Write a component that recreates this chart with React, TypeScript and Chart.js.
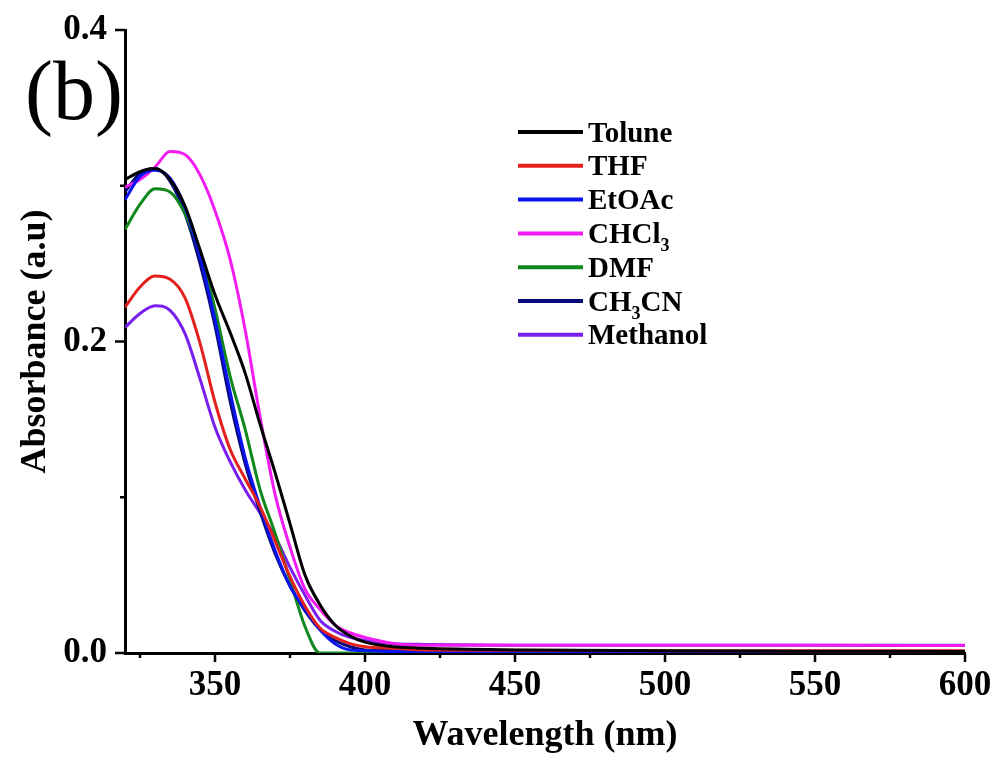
import React, { useEffect, useRef } from 'react';
import { Chart, registerables } from 'chart.js';

Chart.register(...registerables);

// ---- data ----
const wavelengths = [320, 325, 330, 335, 340, 345, 350, 355, 360, 365, 370, 375, 380, 385, 390, 395, 400, 410, 420, 450, 500, 550, 600];

const seriesLabels = ['Tolune', 'THF', 'EtOAc', 'CHCl₃', 'DMF', 'CH₃CN', 'Methanol'];
const seriesColors = ['#000000', '#e3201c', '#0a14f0', '#f21cf2', '#10881c', '#0a0a7a', '#7a1ef0'];

const toluene = [0.304, 0.309, 0.311, 0.304, 0.287, 0.259, 0.230, 0.206, 0.180, 0.147, 0.116, 0.083, 0.050, 0.031, 0.018, 0.011, 0.007, 0.004, 0.003, 0.002, 0.0015, 0.0012, 0.001];
const thf = [0.222, 0.235, 0.242, 0.240, 0.228, 0.199, 0.161, 0.131, 0.112, 0.094, 0.072, 0.049, 0.030, 0.016, 0.010, 0.006, 0.004, 0.003, 0.002, 0.0018, 0.0015, 0.0015, 0.0015];
const etoac = [0.291, 0.306, 0.310, 0.305, 0.286, 0.255, 0.214, 0.168, 0.126, 0.094, 0.066, 0.043, 0.028, 0.015, 0.006, 0.002, 0.0015, 0.001, 0.001, 0.0008, 0.0008, 0.0008, 0.0008];
const chcl3 = [0.299, 0.304, 0.312, 0.322, 0.320, 0.307, 0.284, 0.253, 0.208, 0.152, 0.102, 0.068, 0.041, 0.028, 0.018, 0.013, 0.010, 0.006, 0.005, 0.005, 0.005, 0.005, 0.0048];
const dmf = [0.272, 0.288, 0.298, 0.296, 0.282, 0.257, 0.221, 0.178, 0.144, 0.105, 0.077, 0.047, 0.017, 0.0, 0.0, 0.0, 0.0, 0.0, 0.0, 0.0, 0.0, 0.0, 0.0];
const ch3cn = [0.296, 0.308, 0.311, 0.303, 0.282, 0.250, 0.210, 0.162, 0.122, 0.091, 0.064, 0.043, 0.027, 0.015, 0.008, 0.004, 0.002, 0.0015, 0.001, 0.001, 0.001, 0.001, 0.001];
const methanol = [0.209, 0.218, 0.223, 0.220, 0.205, 0.176, 0.145, 0.123, 0.105, 0.090, 0.075, 0.055, 0.037, 0.021, 0.014, 0.010, 0.008, 0.006, 0.0055, 0.005, 0.005, 0.005, 0.005];

const seriesValues = [toluene, thf, etoac, chcl3, dmf, ch3cn, methanol];

const xMajorTicks = [350, 400, 450, 500, 550, 600];
const xMinorTicks = [325, 375, 425, 475, 525, 575];
const yMajorTicks = [0.0, 0.2, 0.4];
const yMinorTicks = [0.1, 0.3];

const xTitle = 'Wavelength (nm)';
const yTitle = 'Absorbance (a.u)';
const panelLabel = '(b)';

const SERIF = "'Liberation Serif', 'Times New Roman', serif";

function drawRichLabel(ctx: CanvasRenderingContext2D, text: string, x: number, baseline: number) {
  let cx = x;
  const parts = text.split('₃');
  parts.forEach((p, i) => {
    ctx.font = `bold 29px ${SERIF}`;
    ctx.fillText(p, cx, baseline);
    cx += ctx.measureText(p).width;
    if (i < parts.length - 1) {
      ctx.font = `bold 18px ${SERIF}`;
      ctx.fillText('3', cx, baseline + 8);
      cx += ctx.measureText('3').width;
    }
  });
}

const decorPlugin = {
  id: 'decor',
  afterDraw(chart: any) {
    const { ctx, chartArea, scales } = chart;
    const xs = scales.x;
    const ys = scales.y;
    ctx.save();
    ctx.strokeStyle = '#000';
    ctx.lineWidth = 2.5;
    ctx.lineCap = 'butt';
    const seg = (x1: number, y1: number, x2: number, y2: number) => {
      ctx.beginPath();
      ctx.moveTo(x1, y1);
      ctx.lineTo(x2, y2);
      ctx.stroke();
    };
    xMajorTicks.forEach((v) => {
      const px = xs.getPixelForValue(v);
      seg(px, chartArea.bottom, px, chartArea.bottom + 9);
    });
    xMinorTicks.forEach((v) => {
      const px = xs.getPixelForValue(v);
      seg(px, chartArea.bottom, px, chartArea.bottom + 5);
    });
    yMajorTicks.forEach((v) => {
      const py = ys.getPixelForValue(v);
      seg(chartArea.left, py, chartArea.left - 10, py);
    });
    yMinorTicks.forEach((v) => {
      const py = ys.getPixelForValue(v);
      seg(chartArea.left, py, chartArea.left - 5, py);
    });

    // legend
    const lx = chartArea.left + 393;
    const ly0 = chartArea.top + 102;
    const dy = 33.8;
    chart.data.datasets.forEach((ds: any, i: number) => {
      const yy = ly0 + i * dy;
      ctx.strokeStyle = ds.borderColor;
      ctx.lineWidth = 4;
      seg(lx, yy, lx + 65, yy);
      ctx.fillStyle = '#000';
      ctx.textAlign = 'left';
      ctx.textBaseline = 'alphabetic';
      drawRichLabel(ctx, ds.label, lx + 70, yy + 9.5);
    });

    // panel label
    ctx.fillStyle = '#000';
    ctx.font = `84px ${SERIF}`;
    ctx.textAlign = 'left';
    ctx.textBaseline = 'alphabetic';
    ctx.fillText(panelLabel, 25, 119);
    ctx.restore();
  },
};

export default function App() {
  const canvasRef = useRef<HTMLCanvasElement | null>(null);

  useEffect(() => {
    if (!canvasRef.current) return;
    const chart = new Chart(canvasRef.current, {
      type: 'line',
      data: {
        datasets: seriesLabels.map((label, i) => ({
          label,
          data: wavelengths.map((w, j) => ({ x: w, y: seriesValues[i][j] })),
          borderColor: seriesColors[i],
          backgroundColor: seriesColors[i],
          borderWidth: 3,
          pointRadius: 0,
          cubicInterpolationMode: 'monotone' as const,
          fill: false,
        })),
      },
      options: {
        animation: false,
        responsive: false,
        events: [],
        layout: { padding: { top: 30, right: 30, left: 0, bottom: 0 } },
        plugins: { legend: { display: false }, tooltip: { enabled: false }, title: { display: false } },
        scales: {
          x: {
            type: 'linear',
            min: 320,
            max: 600,
            afterFit: (s: any) => { s.height = 114; s.paddingLeft = 0; s.paddingRight = 0; },
            afterBuildTicks: (s: any) => { s.ticks = xMajorTicks.map((v) => ({ value: v })); },
            grid: { display: false, drawTicks: false, tickLength: 0 },
            border: { display: true, color: '#000', width: 3 },
            ticks: {
              autoSkip: false,
              maxRotation: 0,
              padding: 12,
              color: '#000',
              font: { family: SERIF, size: 35, weight: 'bold' },
              callback: (v: any) => String(v),
            },
            title: {
              display: true,
              text: xTitle,
              color: '#000',
              font: { family: SERIF, size: 36, weight: 'bold' },
              padding: { top: 0, bottom: 10 },
            },
          },
          y: {
            type: 'linear',
            min: 0,
            max: 0.4,
            afterFit: (s: any) => { s.width = 125; s.paddingTop = 0; s.paddingBottom = 0; },
            afterBuildTicks: (s: any) => { s.ticks = yMajorTicks.map((v) => ({ value: v })); },
            grid: { display: false, drawTicks: false, tickLength: 0 },
            border: { display: true, color: '#000', width: 3 },
            ticks: {
              autoSkip: false,
              padding: 18,
              color: '#000',
              font: { family: SERIF, size: 35, weight: 'bold' },
              callback: (v: any) => Number(v).toFixed(1),
            },
            title: {
              display: true,
              text: yTitle,
              color: '#000',
              font: { family: SERIF, size: 36, weight: 'bold' },
              padding: { top: 14, bottom: 0 },
            },
          },
        },
      },
      plugins: [decorPlugin],
    });
    return () => chart.destroy();
  }, []);

  return (
    <div style={{ position: 'fixed', left: 0, top: 0, width: 995, height: 767, background: '#fff' }}>
      <canvas ref={canvasRef} width={995} height={767} style={{ display: 'block' }} />
    </div>
  );
}
